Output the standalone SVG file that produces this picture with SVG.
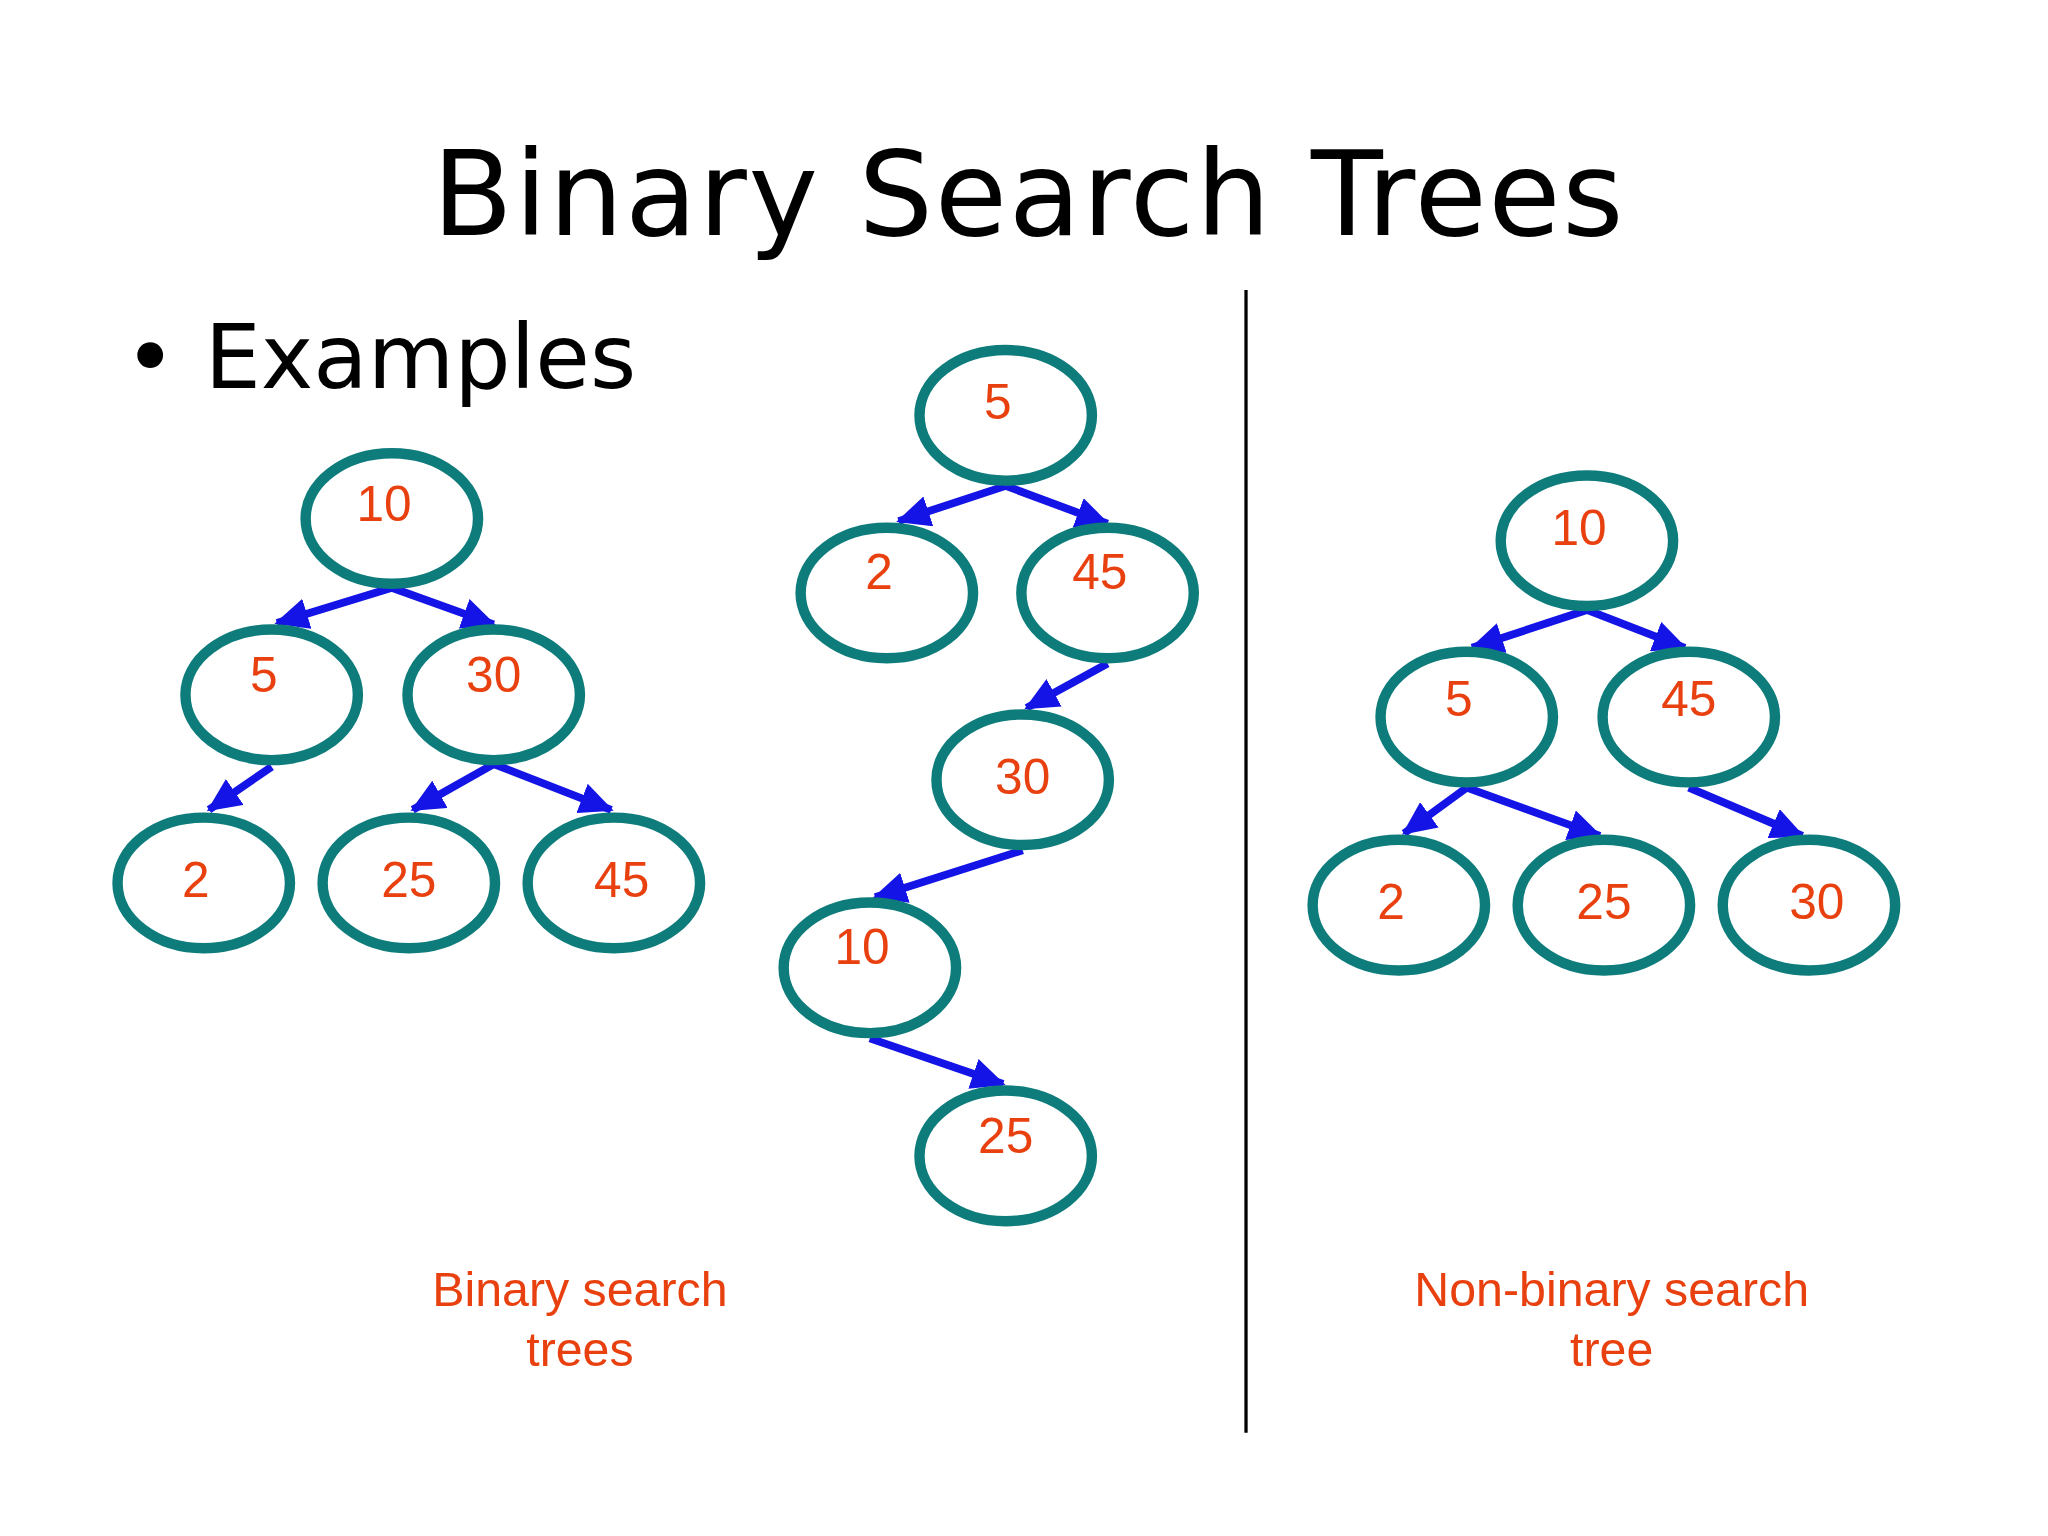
<svg xmlns="http://www.w3.org/2000/svg" width="2048" height="1536" viewBox="0 0 2048 1536">
<style>
.n ellipse{fill:none;stroke:#0E7C7B;stroke-width:8}
.n text{font-family:"Liberation Sans",Arial,sans-serif;font-size:38px;fill:#E8400F;text-anchor:middle}
.e line{stroke:#1414E6;stroke-width:6;marker-end:url(#a)}
.cap{font-family:"Liberation Sans",Arial,sans-serif;font-size:37px;fill:#E8400F;text-anchor:middle}
.h{font-family:"DejaVu Sans",sans-serif;fill:#000}
</style>
<defs><marker id="a" markerUnits="userSpaceOnUse" markerWidth="26" markerHeight="24" refX="24" refY="12" orient="auto" viewBox="0 0 26 24"><path d="M0,0 L26,12 L0,24 Z" fill="#1414E6"/></marker></defs>
<rect width="2048" height="1536" fill="#fff"/>
<g transform="scale(1.3061)">
<text class="h" x="787" y="180" font-size="90" text-anchor="middle" textLength="912">Binary Search Trees</text>
<text class="h" x="95" y="297" font-size="68">• Examples</text>
<line x1="954" y1="222" x2="954" y2="1097" stroke="#000" stroke-width="2.5"/>
<g class="e">
<line x1="300" y1="450" x2="212" y2="477"/><line x1="300" y1="450" x2="378" y2="478"/>
<line x1="208" y1="587" x2="160" y2="620"/><line x1="378" y1="585" x2="316" y2="620"/><line x1="378" y1="585" x2="468" y2="620"/>
<line x1="770" y1="372" x2="688" y2="399"/><line x1="770" y1="372" x2="848" y2="401"/>
<line x1="848" y1="508" x2="786" y2="542"/><line x1="783" y1="651" x2="670" y2="687"/><line x1="666" y1="795" x2="768" y2="830"/>
<line x1="1215" y1="467" x2="1127" y2="496"/><line x1="1215" y1="467" x2="1290" y2="496"/>
<line x1="1123" y1="603" x2="1075" y2="638"/><line x1="1123" y1="603" x2="1225" y2="640"/><line x1="1293" y1="603" x2="1380" y2="640"/>
</g>
<g id="t1n10" class="n"><ellipse cx="300" cy="397" rx="66" ry="50"/><text x="294" y="399">10</text></g>
<g id="t1n5" class="n"><ellipse cx="208" cy="532" rx="66" ry="50"/><text x="202" y="530">5</text></g>
<g id="t1n30" class="n"><ellipse cx="378" cy="532" rx="66" ry="50"/><text x="378" y="530">30</text></g>
<g id="t1n2" class="n"><ellipse cx="156" cy="676" rx="66" ry="50"/><text x="150" y="687">2</text></g>
<g id="t1n25" class="n"><ellipse cx="313" cy="676" rx="66" ry="50"/><text x="313" y="687">25</text></g>
<g id="t1n45" class="n"><ellipse cx="470" cy="676" rx="66" ry="50"/><text x="476" y="687">45</text></g>
<g id="t2n5" class="n"><ellipse cx="770" cy="318" rx="66" ry="50"/><text x="764" y="321">5</text></g>
<g id="t2n2" class="n"><ellipse cx="679" cy="454" rx="66" ry="50"/><text x="673" y="451">2</text></g>
<g id="t2n45" class="n"><ellipse cx="848" cy="454" rx="66" ry="50"/><text x="842" y="451">45</text></g>
<g id="t2n30" class="n"><ellipse cx="783" cy="597" rx="66" ry="50"/><text x="783" y="608">30</text></g>
<g id="t2n10" class="n"><ellipse cx="666" cy="741" rx="66" ry="50"/><text x="660" y="738">10</text></g>
<g id="t2n25" class="n"><ellipse cx="770" cy="885" rx="66" ry="50"/><text x="770" y="883">25</text></g>
<g id="t3n10" class="n"><ellipse cx="1215" cy="414" rx="66" ry="50"/><text x="1209" y="417">10</text></g>
<g id="t3n5" class="n"><ellipse cx="1123" cy="549" rx="66" ry="50"/><text x="1117" y="548">5</text></g>
<g id="t3n45" class="n"><ellipse cx="1293" cy="549" rx="66" ry="50"/><text x="1293" y="548">45</text></g>
<g id="t3n2" class="n"><ellipse cx="1071" cy="693" rx="66" ry="50"/><text x="1065" y="704">2</text></g>
<g id="t3n25" class="n"><ellipse cx="1228" cy="693" rx="66" ry="50"/><text x="1228" y="704">25</text></g>
<g id="t3n30" class="n"><ellipse cx="1385" cy="693" rx="66" ry="50"/><text x="1391" y="704">30</text></g>
<text class="cap" x="444" y="1000">Binary search</text><text class="cap" x="444" y="1046">trees</text>
<text class="cap" x="1234" y="1000">Non-binary search</text><text class="cap" x="1234" y="1046">tree</text>
</g>
</svg>
